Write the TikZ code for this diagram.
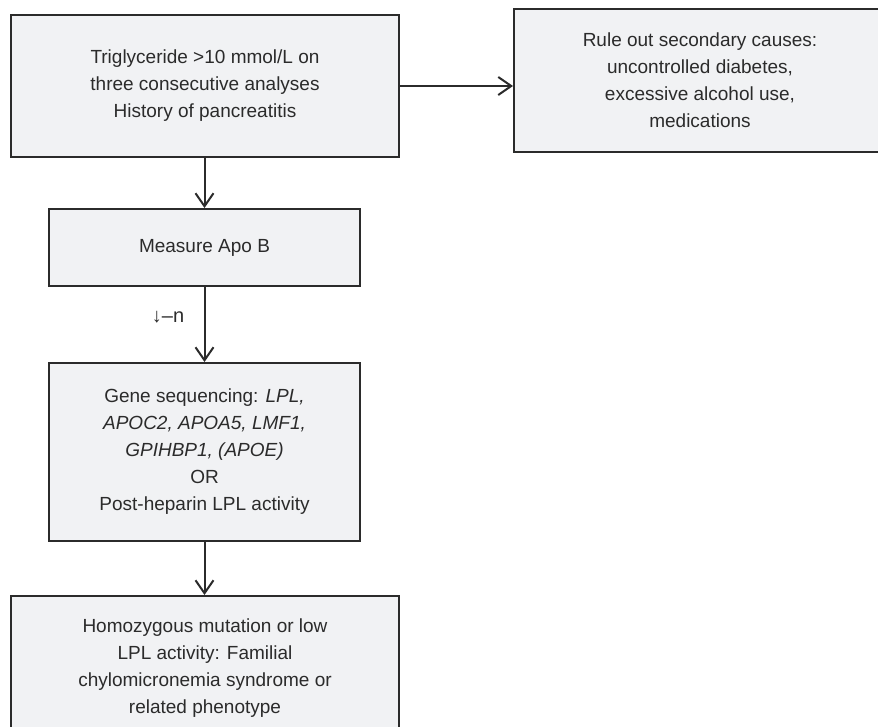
\documentclass[tikz,border=0pt]{standalone}
\usepackage{fontspec}
\setmainfont{Liberation Sans}
\usetikzlibrary{arrows.meta}
\definecolor{boxfill}{HTML}{F1F2F4}
\definecolor{ink}{HTML}{2B2B2B}
\begin{document}
\begin{tikzpicture}[x=1pt,y=-1pt,
  flowbox/.style={draw=ink, fill=boxfill, line width=2pt, align=center,
    inner sep=0pt, text=ink, font=\fontsize{19}{27}\selectfont},
  flow/.style={draw=ink, line width=2pt,
    -{Straight Barb[length=13pt,width=18pt,line width=2pt]}}]
\useasboundingbox (0,0) rectangle (878,726);
\clip (0,0) rectangle (878,726);

\node[flowbox, minimum width=388pt, minimum height=142pt] (tg) at (205,86)
  {Triglyceride >10 mmol/L on\\three consecutive analyses\\History of pancreatitis};
\node[flowbox, minimum width=372pt, minimum height=143pt] (sec) at (700,80.5)
  {Rule out secondary causes:\\uncontrolled diabetes,\\excessive alcohol use,\\medications};
\node[flowbox, minimum width=311pt, minimum height=77pt] (apob) at (204.5,247.5)
  {Measure Apo B};
\node[flowbox, minimum width=311pt, minimum height=178pt] (gene) at (204.5,452)
  {Gene sequencing: \textit{LPL,}\\\textit{APOC2, APOA5, LMF1,}\\\textit{GPIHBP1, (APOE)}\\OR\\Post-heparin LPL activity};
\node[flowbox, minimum width=388pt, minimum height=144pt] (fcs) at (205,668)
  {Homozygous mutation or low\\LPL activity: Familial\\chylomicronemia syndrome or\\related phenotype};

\draw[flow] (tg.east) -- (sec.west |- tg.east);
\draw[flow] (tg.south -| apob.north) -- (apob.north);
\draw[flow] (apob.south) -- node[pos=0.4, left=16pt, text=ink, font=\fontsize{20}{24}\selectfont] (lbl) {↓–n} (gene.north);
\draw[flow] (gene.south) -- (gene.south |- fcs.north);
\end{tikzpicture}
\end{document}
